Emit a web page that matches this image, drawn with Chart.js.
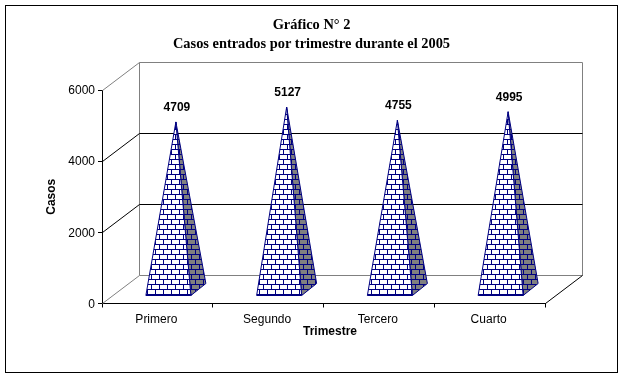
<!DOCTYPE html>
<html>
<head>
<meta charset="utf-8">
<style>
  html, body { margin: 0; padding: 0; background: #fff; }
  canvas { display: block; }
</style>
<script src="https://cdn.jsdelivr.net/npm/chart.js@4"></script>
</head>
<body>
<canvas id="chart" width="623" height="377"></canvas>
<script>
const categories = ['Primero', 'Segundo', 'Tercero', 'Cuarto'];
const casos = [4709, 5127, 4755, 4995];
const titleLines = ['Gráfico N° 2', 'Casos entrados por trimestre durante el 2005'];
const yTitle = 'Casos';
const xTitle = 'Trimestre';

const NAVY = '#000080';
const SANS = "'Liberation Sans', Arial, sans-serif";
const SERIF = "'Liberation Serif', 'Times New Roman', serif";
const depthX = 37, depthY = 28;   // wall offset of the fake 3D box
const baseDx = 15, baseDy = 12;   // depth of a pyramid base

// brick fill, 8x10 tile
function brick(bg) {
  const c = document.createElement('canvas');
  c.width = 8; c.height = 10;
  const g = c.getContext('2d');
  g.fillStyle = bg;
  g.fillRect(0, 0, 8, 10);
  g.fillStyle = NAVY;
  g.fillRect(0, 4, 8, 1);
  g.fillRect(0, 9, 8, 1);
  g.fillRect(3, 0, 1, 4);
  g.fillRect(7, 5, 1, 4);
  return g.createPattern(c, 'repeat');
}

function line(ctx, x1, y1, x2, y2, color) {
  ctx.strokeStyle = color;
  ctx.lineWidth = 1;
  ctx.beginPath();
  ctx.moveTo(Math.floor(x1) + 0.5, Math.floor(y1) + 0.5);
  ctx.lineTo(Math.floor(x2) + 0.5, Math.floor(y2) + 0.5);
  ctx.stroke();
}

const box3d = {
  id: 'box3d',
  beforeDatasetsDraw(chart) {
    const { ctx, scales: { x, y } } = chart;
    const y0 = y.getPixelForValue(0), yTop = y.getPixelForValue(6000);
    const l = x.left, r = x.right;
    ctx.save();
    // frame round the whole picture
    ctx.strokeStyle = '#000';
    ctx.lineWidth = 1;
    ctx.strokeRect(5.5, 5.5, 612, 367);
    // walls and floor
    line(ctx, l, yTop, l + depthX, yTop - depthY, '#808080');
    line(ctx, l + depthX, yTop - depthY, r + depthX, yTop - depthY, '#808080');
    line(ctx, l + depthX, yTop - depthY, l + depthX, y0 - depthY, '#808080');
    line(ctx, r + depthX, yTop - depthY, r + depthX, y0 - depthY, '#808080');
    line(ctx, l + depthX, y0 - depthY, r + depthX, y0 - depthY, '#808080');
    line(ctx, l, y0, l + depthX, y0 - depthY, '#808080');
    line(ctx, r, y0, r + depthX, y0 - depthY, '#000');
    // gridlines run along the left wall and the back wall
    y.ticks.forEach(t => {
      if (t.value === 0 || t.value === 6000) return;
      const p = y.getPixelForValue(t.value);
      line(ctx, l, p, l + depthX, p - depthY, '#000');
      line(ctx, l + depthX, p - depthY, r + depthX, p - depthY, '#000');
    });
    ctx.restore();
  },
  afterDatasetsDraw(chart) {
    const { ctx, scales: { y } } = chart;
    const y0 = y.getPixelForValue(0);
    const front = brick('#fff'), side = brick('#808080');
    ctx.save();
    chart.getDatasetMeta(0).data.forEach((bar, i) => {
      const cx = bar.x + depthX / 2;
      const fy = y0 - depthY / 2 + baseDy / 2;
      const apexX = cx, apexY = bar.y - depthY / 2;
      const fl = cx - bar.width / 2 - baseDx / 2, fr = fl + bar.width;
      ctx.lineWidth = 1;
      ctx.strokeStyle = NAVY;
      // right face first, front face over it
      ctx.fillStyle = side;
      ctx.beginPath();
      ctx.moveTo(fr, fy);
      ctx.lineTo(fr + baseDx, fy - baseDy);
      ctx.lineTo(apexX, apexY);
      ctx.closePath();
      ctx.fill();
      ctx.stroke();
      ctx.fillStyle = front;
      ctx.beginPath();
      ctx.moveTo(fl, fy);
      ctx.lineTo(fr, fy);
      ctx.lineTo(apexX, apexY);
      ctx.closePath();
      ctx.fill();
      ctx.stroke();
      // value label
      ctx.fillStyle = '#000';
      ctx.font = 'bold 12px ' + SANS;
      ctx.textAlign = 'center';
      ctx.textBaseline = 'alphabetic';
      ctx.fillText(String(casos[i]), apexX + 1, apexY - 11);
    });
    // axis title sits right of centre in the original
    ctx.font = 'bold 12px ' + SANS;
    ctx.fillText(xTitle, 330, 335);
    // heading is centred on the page, not on the plot
    ctx.font = 'bold 14.4px ' + SERIF;
    titleLines.forEach((t, i) => ctx.fillText(t, chart.width / 2, 29 + i * 19));
    ctx.restore();
  }
};

new Chart(document.getElementById('chart'), {
  type: 'bar',
  data: {
    labels: categories,
    datasets: [{
      data: casos,
      backgroundColor: 'transparent',
      borderWidth: 0,
      barThickness: 45
    }]
  },
  options: {
    responsive: false,
    animation: false,
    layout: { padding: { left: 44, right: 78, top: 90, bottom: 43.5 } },
    plugins: {
      legend: { display: false },
      tooltip: { enabled: false },
      title: { display: false }
    },
    scales: {
      x: {
        afterFit(s) { s.height = 30; },
        grid: { drawOnChartArea: false, color: '#000', tickLength: 4 },
        border: { color: '#000' },
        ticks: { color: '#000', font: { family: SANS, size: 12 }, maxRotation: 0, labelOffset: -1, padding: 5 }
      },
      y: {
        min: 0,
        max: 6000,
        afterFit(s) { s.width = 58; },
        grid: { drawOnChartArea: false, color: '#000', tickLength: 4 },
        border: { color: '#000' },
        ticks: { stepSize: 2000, color: '#000', font: { family: SANS, size: 12 }, padding: 3, labelOffset: 1, callback: v => String(v) },
        title: {
          display: true,
          text: yTitle,
          color: '#000',
          font: { family: SANS, size: 12, weight: 'bold' },
          padding: 0
        }
      }
    }
  },
  plugins: [box3d]
});
</script>
</body>
</html>
